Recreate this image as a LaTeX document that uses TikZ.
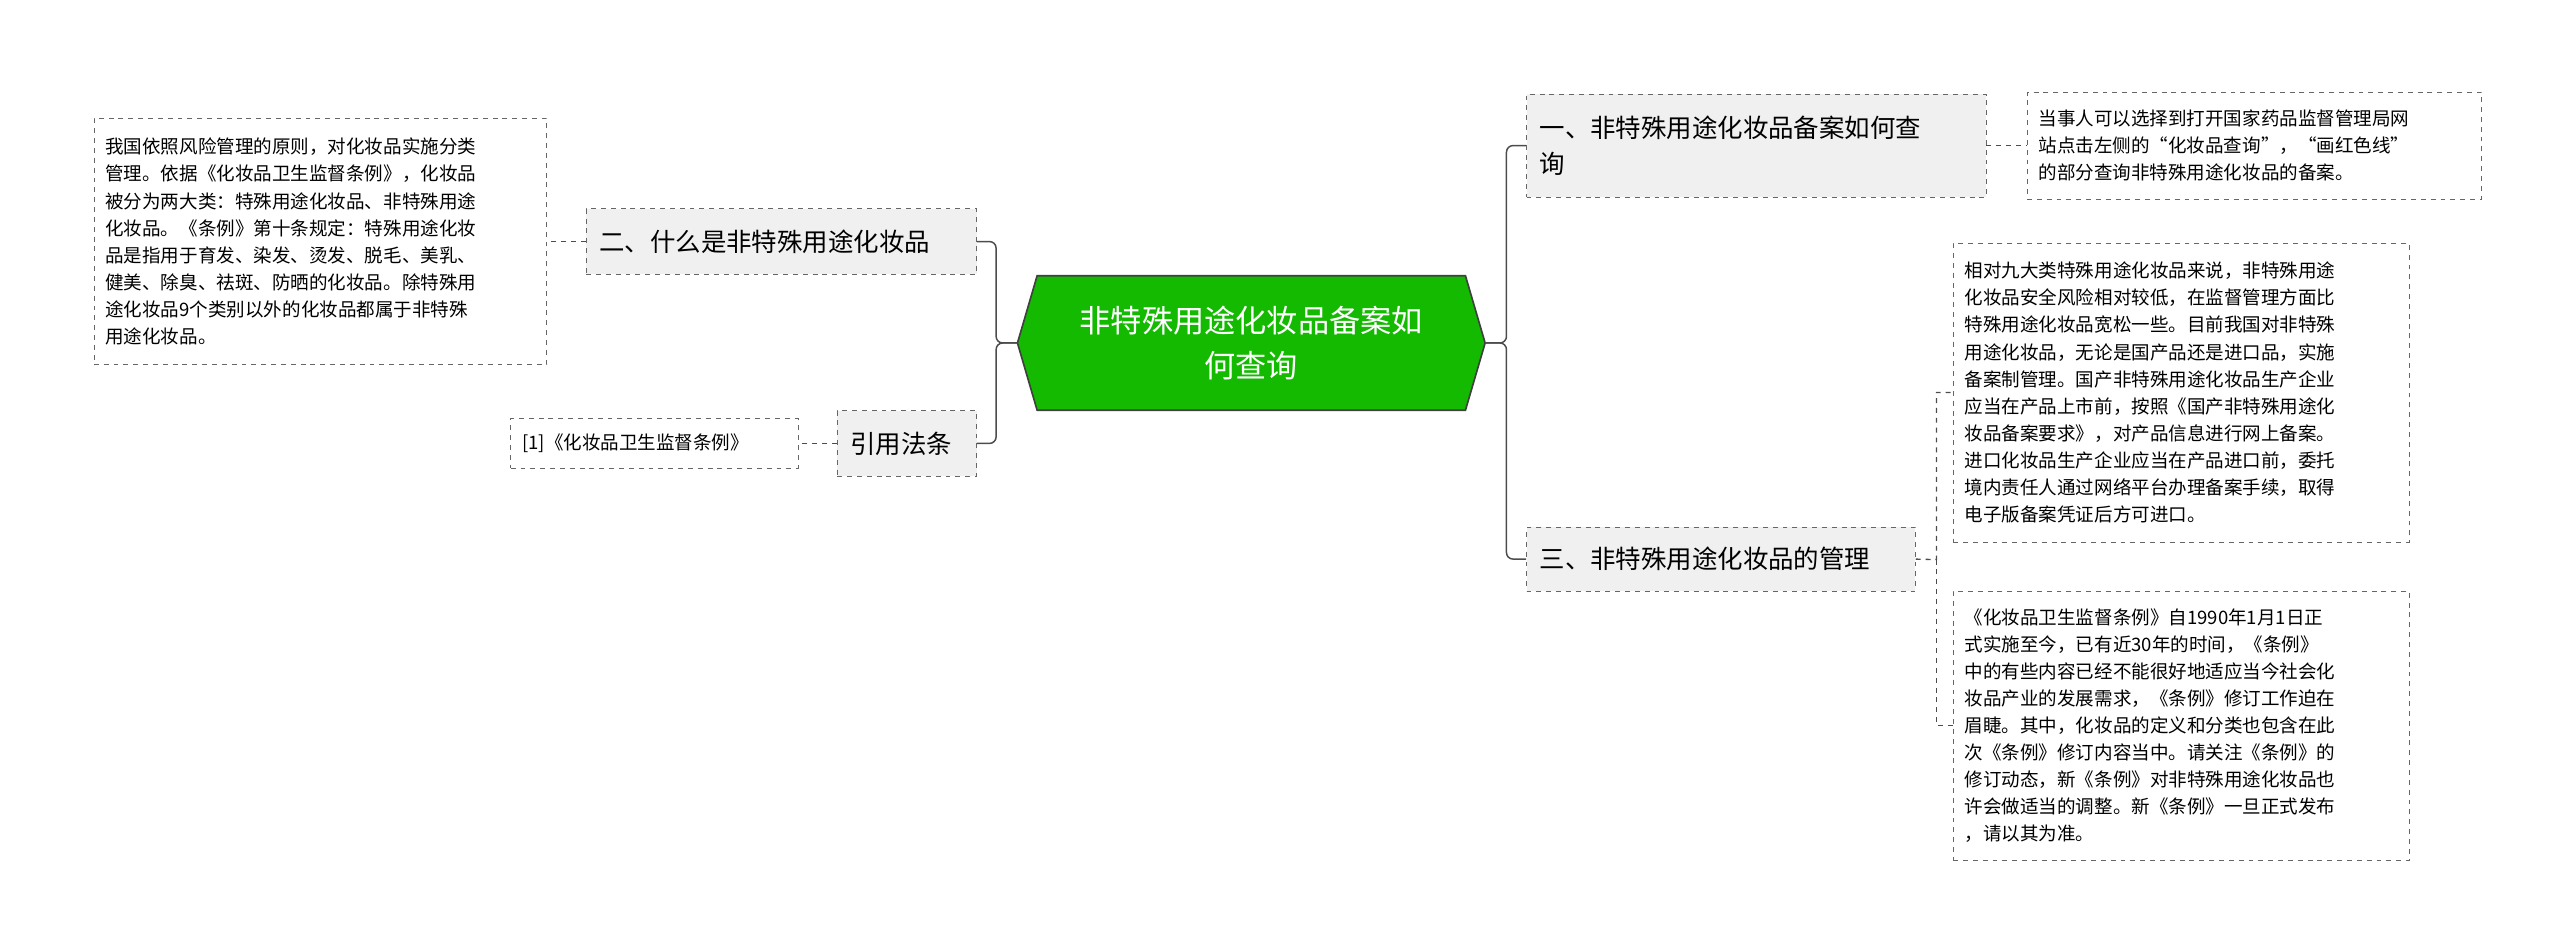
\documentclass[tikz,border=0pt]{standalone}
\usepackage{fontspec}
\setmainfont{Noto Sans CJK SC}
\begin{document}
\begin{tikzpicture}[x=1pt,y=-1pt,
 main/.style={draw=black!60,dashed,fill=gray!12,inner xsep=8pt,inner ysep=0pt,font=\fontsize{15.5}{22}\selectfont,align=left,anchor=north west},
 leaf/.style={draw=black!60,dashed,fill=white,inner xsep=7pt,inner ysep=0pt,font=\fontsize{11.3}{16.5}\selectfont,align=left,anchor=north west},
 conn/.style={draw=black!70,line width=0.9pt,rounded corners=4pt},
 lconn/.style={draw=black!70,dashed,line width=0.8pt}]
\useasboundingbox (0,0) rectangle (1560,578);
% center
\fill[green!70!black!90!lime,draw=black!75,line width=1pt] (620,209)--(632,168)--(893,168)--(905,209)--(893,250)--(632,250)--cycle;
\node[text=white,font=\fontsize{19}{28}\selectfont,align=center,minimum width=285,minimum height=82,inner sep=0pt] (c) at (762.5,209) {非特殊用途化妆品备案如\\何查询};
% left
\node[main,text width=222,minimum height=40] (l1) at (357,127) {二、什么是非特殊用途化妆品};
\node[main,text width=69,minimum height=40] (l2) at (510,250) {引用法条};
\node[leaf,text width=262,minimum height=150] (l1a) at (57,72) {我国依照风险管理的原则，对化妆品实施分类\\管理。依据《化妆品卫生监督条例》，化妆品\\被分为两大类：特殊用途化妆品、非特殊用途\\化妆品。《条例》第十条规定：特殊用途化妆\\品是指用于育发、染发、烫发、脱毛、美乳、\\健美、除臭、祛斑、防晒的化妆品。除特殊用\\途化妆品9个类别以外的化妆品都属于非特殊\\用途化妆品。};
\node[leaf,text width=161,minimum height=30] (l2a) at (311,255) {[1]《化妆品卫生监督条例》};
% right
\node[main,text width=264,minimum height=63] (r1) at (930,57) {一、非特殊用途化妆品备案如何查\\询};
\node[main,text width=221,minimum height=39] (r3) at (930,321) {三、非特殊用途化妆品的管理};
\node[leaf,text width=263,minimum height=65] (r1a) at (1235,56) {当事人可以选择到打开国家药品监督管理局网\\站点击左侧的“化妆品查询”，“画红色线”\\的部分查询非特殊用途化妆品的备案。};
\node[leaf,text width=264,minimum height=182] (r3a) at (1190,148) {相对九大类特殊用途化妆品来说，非特殊用途\\化妆品安全风险相对较低，在监督管理方面比\\特殊用途化妆品宽松一些。目前我国对非特殊\\用途化妆品，无论是国产品还是进口品，实施\\备案制管理。国产非特殊用途化妆品生产企业\\应当在产品上市前，按照《国产非特殊用途化\\妆品备案要求》，对产品信息进行网上备案。\\进口化妆品生产企业应当在产品进口前，委托\\境内责任人通过网络平台办理备案手续，取得\\电子版备案凭证后方可进口。};
\node[leaf,text width=264,minimum height=164] (r3b) at (1190,360) {《化妆品卫生监督条例》自1990年1月1日正\\式实施至今，已有近30年的时间，《条例》\\中的有些内容已经不能很好地适应当今社会化\\妆品产业的发展需求，《条例》修订工作迫在\\眉睫。其中，化妆品的定义和分类也包含在此\\次《条例》修订内容当中。请关注《条例》的\\修订动态，新《条例》对非特殊用途化妆品也\\许会做适当的调整。新《条例》一旦正式发布\\，请以其为准。};
% connectors
\coordinate (cl) at (620,209); \coordinate (cr) at (905,209);
\draw[conn] (cl) -- (607,209) |- (l1.east);
\draw[conn] (cl) -- (607,209) |- (l2.east);
\draw[conn] (cr) -- (918,209) |- (r1.west);
\draw[conn] (cr) -- (918,209) |- (r3.west);
\draw[lconn] (l1.west) -- (l1a.east);
\draw[lconn] (l2.west) -- (l2a.east);
\draw[lconn] (r1.east) -- (r1a.west);
\draw[lconn] (r3.east) -- (1180,341) |- (r3a.west);
\draw[lconn] (1180,341) |- (r3b.west);
\end{tikzpicture}
\end{document}
